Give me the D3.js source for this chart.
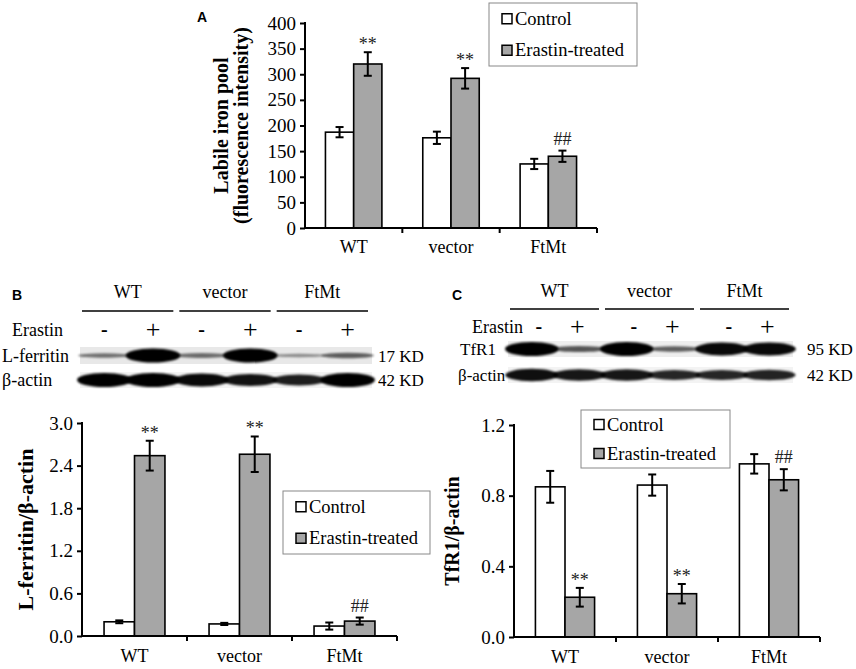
<!DOCTYPE html>
<html>
<head>
<meta charset="utf-8">
<script src="https://cdn.jsdelivr.net/npm/d3@7"></script>
<style>
    body { margin: 0; background: #fff; }
</style>
</head>
<body>
<script>
(function(){

    //pseudo-global data
    var groups = ["WT", "vector", "FtMt"];
    var seriesNames = ["Control", "Erastin-treated"];

    //panel A: labile iron pool
    var lipControl = [187, 176, 125],
        lipControlErr = [10, 12, 10],
        lipErastin = [320, 292, 140],
        lipErastinErr = [23, 20, 11],
        lipMarks = ["**", "**", "##"],
        lipTicks = [0, 50, 100, 150, 200, 250, 300, 350, 400];

    //panel B: L-ferritin / beta-actin
    var ferControl = [0.20, 0.17, 0.14],
        ferControlErr = [0.02, 0.015, 0.05],
        ferErastin = [2.54, 2.56, 0.21],
        ferErastinErr = [0.21, 0.25, 0.05],
        ferMarks = ["**", "**", "##"],
        ferTicks = [0, 0.6, 1.2, 1.8, 2.4, 3.0];

    //panel C: TfR1 / beta-actin
    var tfrControl = [0.85, 0.86, 0.98],
        tfrControlErr = [0.09, 0.06, 0.055],
        tfrErastin = [0.225, 0.245, 0.89],
        tfrErastinErr = [0.053, 0.055, 0.06],
        tfrMarks = ["**", "**", "##"],
        tfrTicks = [0, 0.4, 0.8, 1.2];

    //western blot lanes and band intensities (0-1)
    var lanes = ["WT-", "WT+", "vector-", "vector+", "FtMt-", "FtMt+"];
    var laneSigns = ["-", "+", "-", "+", "-", "+"];
    var lferritinBands = [0.4, 1.0, 0.42, 1.0, 0.25, 0.5];
    var bactinBandsB = [1.0, 1.0, 0.95, 0.9, 0.85, 1.0];
    var tfr1Bands = [1.0, 0.55, 1.0, 0.5, 0.95, 0.95];
    var bactinBandsC = [0.92, 0.88, 0.88, 0.8, 0.8, 0.82];

    var grayFill = "#a6a6a6";
    var serif = "'Liberation Serif', 'Times New Roman', Times, serif";

    window.onload = function(){
        var svg = d3.select("body")
            .append("svg")
            .attr("width", 856)
            .attr("height", 669)
            .style("font-family", serif);

        //blur filter for blot bands
        var defs = svg.append("defs");
        defs.append("filter")
            .attr("id", "blur")
            .attr("x", "-20%").attr("y", "-60%")
            .attr("width", "140%").attr("height", "220%")
            .append("feGaussianBlur")
            .attr("stdDeviation", 1.3);

        setBarChart(svg, {
            left: 305, right: 597, top: 23, bottom: 228, max: 400,
            control: lipControl, controlErr: lipControlErr,
            erastin: lipErastin, erastinErr: lipErastinErr,
            marks: lipMarks, ticks: lipTicks, fmt: d3.format("d"),
            labels: ["Labile iron pool", "(fluorescence intensity)"],
            labelX: [228, 248], labelSize: 20,
            legend: [489, 3, 148, 63],
            letter: ["A", 197, 22], xLabelY: 253
        });

        setBlot(svg, {
            left: 80, right: 372, letter: ["B", 12, 300],
            groupY: 298, lineY: 311, signY: 336, erastinX: 12, signShift: [0, 0],
            labelSize: 18,
            rows: [
                {name: "L-ferritin", kd: "17 KD", bands: lferritinBands, y: 347, h: 17, bg: "#e8e8e8", nameX: 2, kdX: 378},
                {name: "\u03b2-actin", kd: "42 KD", bands: bactinBandsB, y: 372, h: 16, bg: "#f3f3f3", nameX: 2, kdX: 378}
            ]
        });

        setBarChart(svg, {
            left: 82, right: 397, top: 423, bottom: 636, max: 3.0,
            control: ferControl, controlErr: ferControlErr,
            erastin: ferErastin, erastinErr: ferErastinErr,
            marks: ferMarks, ticks: ferTicks, fmt: d3.format(".1f"),
            labels: ["L-ferritin/\u03b2-actin"],
            labelX: [33], labelSize: 22,
            legend: [283, 491, 147, 63],
            letter: null, xLabelY: 662
        });

        setBlot(svg, {
            left: 508, right: 793, letter: ["C", 452, 300],
            groupY: 297, lineY: 309, signY: 333, erastinX: 472, signShift: [7, -2],
            labelSize: 17,
            rows: [
                {name: "TfR1", kd: "95 KD", bands: tfr1Bands, y: 341, h: 16, bg: "#eeeeee", nameX: 460, kdX: 807},
                {name: "\u03b2-actin", kd: "42 KD", bands: bactinBandsC, y: 367, h: 16, bg: "#f3f3f3", nameX: 458, kdX: 807}
            ]
        });

        setBarChart(svg, {
            left: 514, right: 820, top: 425, bottom: 637, max: 1.2,
            control: tfrControl, controlErr: tfrControlErr,
            erastin: tfrErastin, erastinErr: tfrErastinErr,
            marks: tfrMarks, ticks: tfrTicks, fmt: d3.format(".1f"),
            labels: ["TfR1/\u03b2-actin"],
            labelX: [459], labelSize: 20,
            legend: [581, 410, 149, 58],
            letter: null, xLabelY: 663
        });
    };

    //grouped bar chart with error bars
    function setBarChart(svg, cfg){
        var g = svg.append("g");

        var x = d3.scaleBand()
            .domain(groups)
            .range([cfg.left, cfg.right]);

        var inner = d3.scaleBand()
            .domain(seriesNames)
            .range([0, x.bandwidth() * 0.58]);

        var offset = x.bandwidth() * 0.21;

        var y = d3.scaleLinear()
            .domain([0, cfg.max])
            .range([cfg.bottom, cfg.top]);

        //build rows for bars
        var rows = [];
        groups.forEach(function(grp, i){
            rows.push({group: grp, series: seriesNames[0], value: cfg.control[i], err: cfg.controlErr[i], mark: null});
            rows.push({group: grp, series: seriesNames[1], value: cfg.erastin[i], err: cfg.erastinErr[i], mark: cfg.marks[i]});
        });

        function barX(d){ return x(d.group) + offset + inner(d.series); }
        function barMid(d){ return barX(d) + inner.bandwidth() / 2; }

        g.selectAll(".bar")
            .data(rows)
            .enter()
            .append("rect")
            .attr("class", "bar")
            .attr("x", barX)
            .attr("width", inner.bandwidth())
            .attr("y", function(d){ return y(d.value); })
            .attr("height", function(d){ return y(0) - y(d.value); })
            .style("fill", function(d){ return d.series == seriesNames[0] ? "#fff" : grayFill; })
            .style("stroke", "#000")
            .style("stroke-width", 1.6);

        //error bars
        var eb = g.selectAll(".err")
            .data(rows)
            .enter()
            .append("g")
            .attr("class", "err")
            .style("stroke", "#000")
            .style("stroke-width", 2);
        eb.append("line")
            .attr("x1", barMid).attr("x2", barMid)
            .attr("y1", function(d){ return y(d.value + d.err); })
            .attr("y2", function(d){ return y(d.value - d.err); });
        eb.append("line")
            .attr("x1", function(d){ return barMid(d) - 4; })
            .attr("x2", function(d){ return barMid(d) + 4; })
            .attr("y1", function(d){ return y(d.value + d.err); })
            .attr("y2", function(d){ return y(d.value + d.err); });
        eb.append("line")
            .attr("x1", function(d){ return barMid(d) - 4; })
            .attr("x2", function(d){ return barMid(d) + 4; })
            .attr("y1", function(d){ return y(d.value - d.err); })
            .attr("y2", function(d){ return y(d.value - d.err); });

        //significance marks
        g.selectAll(".mark")
            .data(rows.filter(function(d){ return d.mark; }))
            .enter()
            .append("text")
            .attr("class", "mark")
            .attr("x", barMid)
            .attr("y", function(d){ return y(d.value + d.err) - (d.mark == "**" ? 2 : 6); })
            .attr("text-anchor", "middle")
            .style("font-family", serif)
            .style("font-size", "18px")
            .style("fill", "#222")
            .text(function(d){ return d.mark; });

        //y axis
        var yAxis = d3.axisLeft(y)
            .tickValues(cfg.ticks)
            .tickFormat(cfg.fmt)
            .tickSize(5)
            .tickPadding(4);
        var ya = g.append("g")
            .attr("transform", "translate(" + cfg.left + ",0)")
            .call(yAxis);
        ya.select(".domain").attr("d", "M0," + (cfg.top - 1) + "V" + cfg.bottom).style("stroke-width", 2);
        ya.selectAll(".tick line").style("stroke-width", 2);
        ya.selectAll(".tick text")
            .style("font-family", serif)
            .style("font-size", "19px");

        //x axis with ticks at group boundaries
        var xa = g.append("g");
        xa.append("line")
            .attr("x1", cfg.left).attr("x2", cfg.right)
            .attr("y1", cfg.bottom).attr("y2", cfg.bottom)
            .style("stroke", "#000").style("stroke-width", 2);
        xa.selectAll(".xtick")
            .data(groups)
            .enter()
            .append("line")
            .attr("class", "xtick")
            .attr("x1", function(d){ return x(d) + x.bandwidth(); })
            .attr("x2", function(d){ return x(d) + x.bandwidth(); })
            .attr("y1", cfg.bottom).attr("y2", cfg.bottom + 5)
            .style("stroke", "#000").style("stroke-width", 2);
        xa.selectAll(".xlabel")
            .data(groups)
            .enter()
            .append("text")
            .attr("class", "xlabel")
            .attr("x", function(d){ return x(d) + x.bandwidth() / 2; })
            .attr("y", cfg.xLabelY)
            .attr("text-anchor", "middle")
            .style("font-family", serif)
            .style("font-size", "18px")
            .text(function(d){ return d; });

        //y axis title
        cfg.labels.forEach(function(lbl, i){
            g.append("text")
                .attr("transform", "translate(" + cfg.labelX[i] + "," + ((cfg.top + cfg.bottom) / 2) + ") rotate(-90)")
                .attr("text-anchor", "middle")
                .style("font-family", serif)
                .style("font-weight", "bold")
                .style("font-size", cfg.labelSize + "px")
                .text(lbl);
        });

        //legend
        var lg = g.append("g")
            .attr("transform", "translate(" + cfg.legend[0] + "," + cfg.legend[1] + ")");
        lg.append("rect")
            .attr("width", cfg.legend[2])
            .attr("height", cfg.legend[3])
            .style("fill", "#fff")
            .style("stroke", "#888")
            .style("stroke-width", 1);
        var step = cfg.legend[3] / 2;
        seriesNames.forEach(function(s, i){
            var cy = step * i + step / 2;
            lg.append("rect")
                .attr("x", 13).attr("y", cy - 5)
                .attr("width", 10).attr("height", 10)
                .style("fill", i == 0 ? "#fff" : grayFill)
                .style("stroke", "#000")
                .style("stroke-width", 1.5);
            lg.append("text")
                .attr("x", 26).attr("y", cy + 6)
                .style("font-family", serif)
                .style("font-size", "18.5px")
                .text(s);
        });

        if (cfg.letter){
            g.append("text")
                .attr("x", cfg.letter[1]).attr("y", cfg.letter[2])
                .style("font-family", "'Liberation Sans', Arial, sans-serif")
                .style("font-weight", "bold")
                .style("font-size", "14px")
                .text(cfg.letter[0]);
        }
    };

    //western blot panel
    function setBlot(svg, cfg){
        var g = svg.append("g");

        var lane = d3.scaleBand()
            .domain(lanes)
            .range([cfg.left, cfg.right]);

        g.append("text")
            .attr("x", cfg.letter[1]).attr("y", cfg.letter[2])
            .style("font-family", "'Liberation Sans', Arial, sans-serif")
            .style("font-weight", "bold")
            .style("font-size", "14px")
            .text(cfg.letter[0]);

        //group headers and lines
        groups.forEach(function(grp, i){
            var x0 = lane(lanes[i * 2]) + 2,
                x1 = lane(lanes[i * 2 + 1]) + lane.bandwidth() - 4;
            g.append("line")
                .attr("x1", x0).attr("x2", x1)
                .attr("y1", cfg.lineY).attr("y2", cfg.lineY)
                .style("stroke", "#000").style("stroke-width", 1.3);
            g.append("text")
                .attr("x", (x0 + x1) / 2)
                .attr("y", cfg.groupY)
                .attr("text-anchor", "middle")
                .style("font-family", serif)
                .style("font-size", "18px")
                .text(grp);
        });

        g.append("text")
            .attr("x", cfg.erastinX).attr("y", cfg.signY)
            .style("font-family", serif)
            .style("font-size", "18px")
            .text("Erastin");

        g.selectAll(".sign")
            .data(lanes)
            .enter()
            .append("text")
            .attr("class", "sign")
            .attr("x", function(d, i){
                return lane(d) + lane.bandwidth() / 2 + (laneSigns[i] == "-" ? cfg.signShift[0] : cfg.signShift[1]);
            })
            .attr("y", function(d, i){ return cfg.signY + (laneSigns[i] == "+" ? 2 : 0); })
            .attr("text-anchor", "middle")
            .style("font-family", serif)
            .style("font-size", function(d, i){ return laneSigns[i] == "+" ? "26px" : "20px"; })
            .style("font-weight", function(d, i){ return laneSigns[i] == "-" ? "bold" : "normal"; })
            .text(function(d, i){ return laneSigns[i]; });

        cfg.rows.forEach(function(row){
            g.append("rect")
                .attr("x", cfg.left).attr("y", row.y)
                .attr("width", cfg.right - cfg.left)
                .attr("height", row.h)
                .style("fill", row.bg);

            var mid = row.y + row.h / 2;
            g.selectAll(null)
                .data(row.bands)
                .enter()
                .append("ellipse")
                .attr("cx", function(d, i){ return lane(lanes[i]) + lane.bandwidth() / 2; })
                .attr("cy", mid)
                .attr("rx", function(d){ return lane.bandwidth() / 2 + 1 + d * 2; })
                .attr("ry", function(d){ return 1.4 + d * d * 5.6; })
                .style("fill", "#000")
                .style("opacity", function(d){ return 0.2 + 0.8 * d; })
                .attr("filter", "url(#blur)");

            g.append("text")
                .attr("x", row.nameX).attr("y", mid + 6)
                .style("font-family", serif)
                .style("font-size", cfg.labelSize + "px")
                .text(row.name);
            g.append("text")
                .attr("x", row.kdX).attr("y", mid + 6)
                .style("font-family", serif)
                .style("font-size", "17px")
                .text(row.kd);
        });
    };

})();
</script>
</body>
</html>
